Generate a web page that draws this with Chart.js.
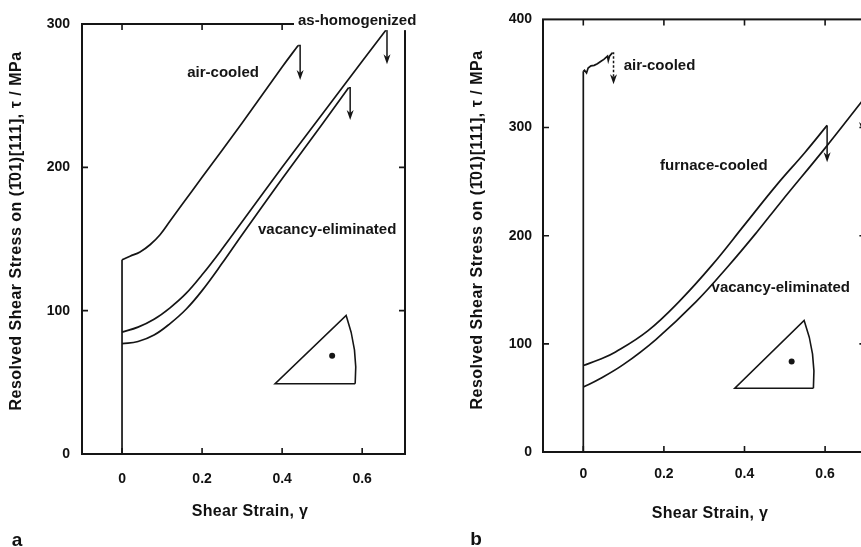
<!DOCTYPE html>
<html>
<head>
<meta charset="utf-8">
<script src="https://cdn.jsdelivr.net/npm/chart.js@4.4.1/dist/chart.umd.min.js"></script>
<style>
  html, body { margin: 0; padding: 0; background: #fff; }
  body { width: 861px; height: 547px; overflow: hidden; position: relative;
         font-family: "Liberation Sans", Arial, sans-serif; color: #111; }
  .panel { position: absolute; top: 0; height: 547px; }
  #panelA { left: 0; width: 430px; }
  #panelB { left: 430px; width: 470px; }
  .txt { position: absolute; white-space: nowrap; font-weight: bold; line-height: 1;
         transform: translate(-50%, -50%); }
  .ytitle { transform: translate(-50%, -50%) rotate(-90deg); font-size: 16px; letter-spacing: 0.5px; }
  .xtitle { font-size: 16px; letter-spacing: 0.3px; }
  .letter { font-size: 19px; }
</style>
</head>
<body>
<div class="panel" id="panelA"><canvas id="chartA" width="430" height="547"></canvas></div>
<div class="panel" id="panelB"><canvas id="chartB" width="470" height="547"></canvas></div>

<div class="txt ytitle" style="left:16px; top:231px">Resolved Shear Stress on (1&#772;01)[111], &tau; / MPa</div>
<div class="txt ytitle" style="left:477px; top:230px">Resolved Shear Stress on (1&#772;01)[111], &tau; / MPa</div>
<div class="txt xtitle" style="left:250px; top:511px">Shear Strain, &gamma;</div>
<div class="txt xtitle" style="left:710px; top:513px">Shear Strain, &gamma;</div>
<div class="txt letter" style="left:17px; top:539px">a</div>
<div class="txt letter" style="left:476px; top:538px">b</div>

<script>
// --- tick values ---
const strainTicks = [0, 0.2, 0.4, 0.6];
const stressTicksA = [0, 100, 200, 300];
const stressTicksB = [0, 100, 200, 300, 400];

// --- panel a: curves ---
const aElasticStrain = [0, 0];
const aElasticStress = [0, 135.5];
const aStrainAir = [0, 0.02, 0.045, 0.07, 0.095, 0.12, 0.15, 0.2, 0.3, 0.4, 0.44];
const aStressAir = [135.5, 138, 141, 146, 153, 162.5, 174, 193, 231, 270, 285];
const aStrainHomog = [0, 0.04, 0.08, 0.12, 0.16, 0.2, 0.25, 0.3, 0.4, 0.5, 0.6, 0.66];
const aStressHomog = [85, 88.5, 94, 102, 112, 125, 143, 162, 200, 237, 274, 296];
const aStrainVac = [0, 0.04, 0.08, 0.12, 0.16, 0.2, 0.25, 0.3, 0.4, 0.5, 0.566];
const aStressVac = [77, 78.5, 83, 91, 101, 114, 133, 153, 192, 230, 255.5];

// fracture arrows (air, homog, vac)
const aArrowStrain = [0.445, 0.662, 0.57];
const aArrowTip = [261, 272, 233];

// stereographic triangle inset
const aInsetStrain = [0.3825, 0.56, 0.5825];
const aInsetStress = [49, 96.7, 49];
const aDot = [0.525, 68.5];

// --- panel b: curves ---
const bElasticStrain = [0, 0];
const bElasticStress = [0, 352];
const bStrainAir = [0, 0.003, 0.008, 0.012, 0.019, 0.027, 0.035, 0.043, 0.051, 0.06, 0.062, 0.065, 0.072];
const bStressAir = [352, 353, 350.5, 355, 357, 357.5, 359, 361, 363, 366, 362, 366, 369];
const bStrainFurnace = [0, 0.04, 0.08, 0.16, 0.24, 0.32, 0.40, 0.48, 0.55, 0.605];
const bStressFurnace = [80, 85.5, 92.5, 112, 140, 173, 210, 247, 277, 302];
const bStrainVac = [0, 0.04, 0.10, 0.18, 0.28, 0.36, 0.43, 0.49, 0.6, 0.693];
const bStressVac = [60, 67.5, 81, 104, 139, 172, 203, 231, 281, 325];

const bArrowStrain = [0.075, 0.605, 0.693];
const bArrowTip = [340, 268, 296];

const bInsetStrain = [0.376, 0.548, 0.571];
const bInsetStress = [59, 121.6, 59];
const bDot = [0.517, 83.6];

Chart.defaults.font.family = '"Liberation Sans", Arial, sans-serif';
Chart.defaults.font.size = 14;
Chart.defaults.font.weight = 'bold';
Chart.defaults.color = '#111';

const INK = '#151515';

function pts(xs, ys) {
    return xs.map((x, i) => ({ x: x, y: ys[i] }));
}

function curve(xs, ys, smooth) {
    return {
        data: pts(xs, ys),
        showLine: true,
        borderColor: INK,
        borderWidth: 1.7,
        pointRadius: 0,
        fill: false,
        tension: smooth ? 0.4 : 0
    };
}

// frame, inward ticks, arrows, inset and curve labels
const figurePlugin = {
    id: 'figure',
    afterDraw(chart, args, opts) {
        const ctx = chart.ctx;
        const a = chart.chartArea;
        const xs = chart.scales.x;
        const ys = chart.scales.y;
        ctx.save();
        ctx.strokeStyle = INK;
        ctx.fillStyle = INK;

        // frame
        ctx.lineWidth = 2;
        ctx.strokeRect(a.left, a.top, a.right - a.left, a.bottom - a.top);

        // inward ticks
        ctx.lineWidth = 1.6;
        const len = 6;
        ctx.beginPath();
        xs.ticks.forEach(t => {
            const px = xs.getPixelForValue(t.value);
            ctx.moveTo(px, a.bottom); ctx.lineTo(px, a.bottom - len);
            ctx.moveTo(px, a.top); ctx.lineTo(px, a.top + len);
        });
        ys.ticks.forEach(t => {
            const py = ys.getPixelForValue(t.value);
            if (py <= a.top + 1 || py >= a.bottom - 1) return;
            ctx.moveTo(a.left, py); ctx.lineTo(a.left + len, py);
            ctx.moveTo(a.right, py); ctx.lineTo(a.right - len, py);
        });
        ctx.stroke();

        // fracture arrows
        opts.arrows.strain.forEach((s, i) => {
            const meta = chart.getDatasetMeta(opts.arrows.series[i]);
            const last = meta.data[meta.data.length - 1];
            const ax = xs.getPixelForValue(s);
            const tip = ys.getPixelForValue(opts.arrows.tip[i]);
            const head = 10, half = 3.5;
            ctx.lineWidth = 1.5;
            ctx.setLineDash(opts.arrows.dashed[i] ? [2.5, 2] : []);
            ctx.beginPath();
            ctx.moveTo(last.x, last.y);
            ctx.lineTo(ax, last.y);
            ctx.lineTo(ax, tip - head + 3);
            ctx.stroke();
            ctx.setLineDash([]);
            ctx.beginPath();
            ctx.moveTo(ax, tip);
            ctx.lineTo(ax - half, tip - head);
            ctx.lineTo(ax, tip - head + 3);
            ctx.lineTo(ax + half, tip - head);
            ctx.closePath();
            ctx.fill();
        });

        // stereographic triangle
        const ins = opts.inset;
        const p = ins.strain.map((s, i) => [xs.getPixelForValue(s), ys.getPixelForValue(ins.stress[i])]);
        ctx.lineWidth = 1.6;
        ctx.beginPath();
        ctx.moveTo(p[2][0], p[2][1]);
        ctx.lineTo(p[0][0], p[0][1]);
        ctx.lineTo(p[1][0], p[1][1]);
        ctx.quadraticCurveTo(p[2][0] + 3, (p[1][1] + p[2][1]) / 2, p[2][0], p[2][1]);
        ctx.stroke();
        ctx.beginPath();
        ctx.arc(xs.getPixelForValue(ins.dot[0]), ys.getPixelForValue(ins.dot[1]), 3, 0, Math.PI * 2);
        ctx.fill();

        // curve labels
        ctx.font = 'bold 15px "Liberation Sans", Arial, sans-serif';
        ctx.textAlign = 'center';
        ctx.textBaseline = 'middle';
        opts.labels.forEach(l => {
            const lx = xs.getPixelForValue(l.strain);
            const ly = ys.getPixelForValue(l.stress);
            if (l.box) {
                const w = ctx.measureText(l.text).width;
                ctx.fillStyle = '#fff';
                ctx.fillRect(lx - w / 2 - 4, ly - 9, w + 8, 18);
                ctx.fillStyle = INK;
            }
            ctx.fillText(l.text, lx, ly);
        });
        ctx.restore();
    }
};

function makeChart(id, cfg) {
    return new Chart(document.getElementById(id), {
        type: 'scatter',
        data: { datasets: cfg.datasets },
        options: {
            responsive: false,
            animation: false,
            layout: { padding: cfg.padding },
            plugins: {
                legend: { display: false },
                tooltip: { enabled: false },
                figure: cfg.figure
            },
            scales: {
                x: {
                    type: 'linear',
                    min: -0.1,
                    max: cfg.xMax,
                    grid: { display: false, drawTicks: false },
                    border: { display: false },
                    ticks: { padding: cfg.xPad, color: '#111' },
                    afterBuildTicks: s => { s.ticks = strainTicks.map(v => ({ value: v })); },
                    afterFit: s => { s.height = cfg.xHeight; }
                },
                y: {
                    type: 'linear',
                    min: 0,
                    max: cfg.yMax,
                    grid: { display: false, drawTicks: false },
                    border: { display: false },
                    ticks: { padding: cfg.yPad, color: '#111' },
                    afterBuildTicks: s => { s.ticks = cfg.yTicks.map(v => ({ value: v })); },
                    afterFit: s => { s.width = cfg.yWidth; }
                }
            }
        },
        plugins: [figurePlugin]
    });
}

makeChart('chartA', {
    datasets: [
        curve(aElasticStrain, aElasticStress, false),
        curve(aStrainAir, aStressAir, true),
        curve(aStrainHomog, aStressHomog, true),
        curve(aStrainVac, aStressVac, true)
    ],
    padding: { top: 24, right: 25, bottom: 0, left: 0 },
    xMax: 0.707, xHeight: 93, xPad: 16.5, yMax: 300, yWidth: 82, yPad: 12, yTicks: stressTicksA,
    figure: {
        arrows: { strain: aArrowStrain, tip: aArrowTip, series: [1, 2, 3], dashed: [false, false, false] },
        inset: { strain: aInsetStrain, stress: aInsetStress, dot: aDot },
        labels: [
            { text: 'air-cooled', strain: 0.2525, stress: 265.8 },
            { text: 'as-homogenized', strain: 0.5875, stress: 302, box: true },
            { text: 'vacancy-eliminated', strain: 0.5125, stress: 156.3 }
        ]
    }
});

makeChart('chartB', {
    datasets: [
        curve(bElasticStrain, bElasticStress, false),
        curve(bStrainAir, bStressAir, false),
        curve(bStrainFurnace, bStressFurnace, true),
        curve(bStrainVac, bStressVac, true)
    ],
    padding: { top: 19, right: 34.6, bottom: 0, left: 0 },
    xMax: 0.7, xHeight: 95, xPad: 13.5, yMax: 400, yWidth: 113, yPad: 11, yTicks: stressTicksB,
    figure: {
        arrows: { strain: bArrowStrain, tip: bArrowTip, series: [1, 2, 3], dashed: [true, false, false] },
        inset: { strain: bInsetStrain, stress: bInsetStress, dot: bDot },
        labels: [
            { text: 'air-cooled', strain: 0.189, stress: 356.6 },
            { text: 'furnace-cooled', strain: 0.324, stress: 264.2 },
            { text: 'vacancy-eliminated', strain: 0.49, stress: 152 }
        ]
    }
});
</script>
</body>
</html>
